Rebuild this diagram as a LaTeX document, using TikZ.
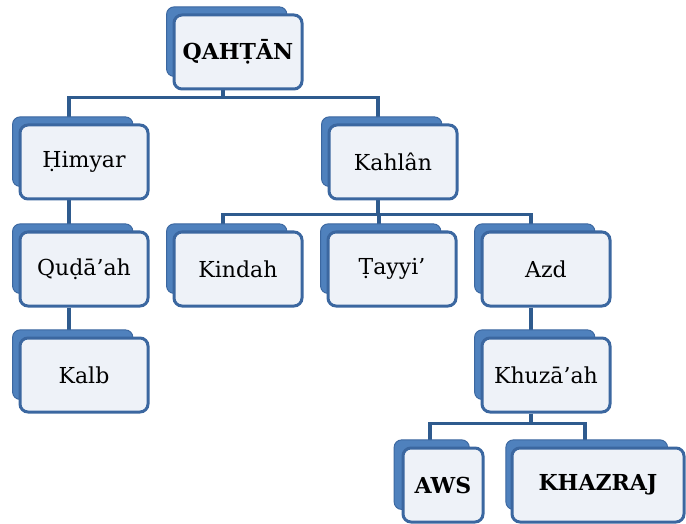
\documentclass[tikz,border=0pt]{standalone}
\usepackage{fontspec}
\setmainfont{DejaVu Serif}
\usetikzlibrary{shadows,backgrounds}

\definecolor{backblue}{HTML}{4F81BD}
\definecolor{edgeblue}{HTML}{3B67A0}
\definecolor{linkblue}{HTML}{2F5B8E}
\definecolor{paleblue}{HTML}{EEF2F8}

\tikzset{
	tribe/.style={draw=edgeblue, line width=3pt, fill=paleblue,
		rounded corners=8pt, minimum width=128pt, minimum height=74pt,
		font=\fontsize{22}{26}\selectfont,
		general shadow={fill=backblue, draw=edgeblue, line width=1pt,
			shadow xshift=-12pt, shadow yshift=11pt, shadow scale=0.94}},
	chief/.style={tribe, font=\fontsize{22}{26}\selectfont\bfseries},
	link/.style={draw=linkblue, line width=3.5pt}
}

\begin{document}
\begin{tikzpicture}[x=1pt, y=-1pt]
		\useasboundingbox (0,0) rectangle (686,524);
		% tribes
		\node[chief] (qahtan) at (238,52) {QAHṬĀN};
		\node[tribe] (himyar) at (84,162) {Ḥimyar};
		\node[tribe] (kahlan) at (393,162) {Kahlân};
		\node[tribe] (qudaah) at (84,269) {Quḍā’ah};
		\node[tribe] (kindah) at (238,269) {Kindah};
		\node[tribe] (tayyi) at (392,269) {Ṭayyi’};
		\node[tribe] (azd) at (546,269) {Azd};
		\node[tribe] (kalb) at (84,375) {Kalb};
		\node[tribe] (khuzaah) at (546,375) {Khuzā’ah};
		\node[chief, minimum width=80pt] (aws) at (443,485) {AWS};
		\node[chief, minimum width=172pt] (khazraj) at (598,485) {KHAZRAJ};
		% links
		\begin{scope}[on background layer]
		\draw[link] ([xshift=-15pt]qahtan.south) -- ++(0,7) -| ([xshift=-15pt]himyar.north);
		\draw[link] ([xshift=-15pt]qahtan.south) -- ++(0,7) -| ([xshift=-15pt]kahlan.north);
		\draw[link] ([xshift=-15pt]himyar.south) -- ([xshift=-15pt]qudaah.north);
		\draw[link] ([xshift=-15pt]qudaah.south) -- ([xshift=-15pt]kalb.north);
		\draw[link] ([xshift=-15pt]kahlan.south) -- ++(0,14) -| ([xshift=-15pt]kindah.north);
		\draw[link] ([xshift=-15pt]kahlan.south) -- ++(0,14) -| ([xshift=-13pt]tayyi.north);
		\draw[link] ([xshift=-15pt]kahlan.south) -- ++(0,14) -| ([xshift=-15pt]azd.north);
		\draw[link] ([xshift=-15pt]azd.south) -- ([xshift=-15pt]khuzaah.north);
		\draw[link] ([xshift=-15pt]khuzaah.south) -- ++(0,10) -| ([xshift=-13pt]aws.north);
		\draw[link] ([xshift=-15pt]khuzaah.south) -- ++(0,10) -| ([xshift=-13pt]khazraj.north);
		\end{scope}
	\end{tikzpicture}
\end{document}
